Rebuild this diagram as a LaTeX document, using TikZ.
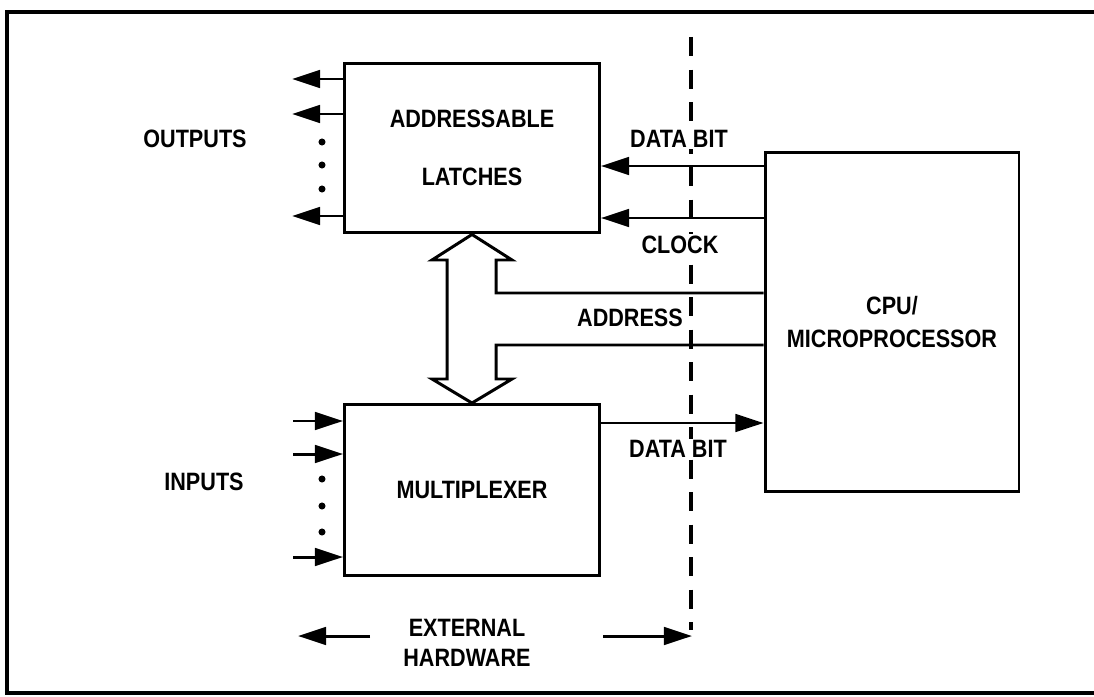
\documentclass[tikz,border=0pt]{standalone}
\usepackage{fontspec}
\setmainfont{Liberation Sans}[FakeStretch=0.86]
\usetikzlibrary{arrows.meta}
\begin{document}
\begin{tikzpicture}[
  x=0.02cm, y=-0.02cm,
  line width=1.7pt,
  blk/.style={rectangle, draw, minimum width=5.1cm, inner sep=0pt, align=center,
    font=\fontsize{14.3}{17}\selectfont\bfseries},
  lbl/.style={font=\fontsize{14.3}{17}\selectfont\bfseries, inner sep=1pt, align=center},
  sig/.style={-{Triangle[length=16pt,width=10pt]}},
  bus/.style={line join=miter},
  sep/.style={dash pattern=on 11pt off 7.5pt, line width=1.9pt}
]
  \useasboundingbox (0,0) rectangle (1094,696);
  % ramecek
  \draw[line width=1.9pt] (1100,12) -- (7,12) -- (7,693) -- (1100,693);

  % hranice externiho hardware
  \draw[sep] (691,37) -- (691,630);

  % bloky
  \node[blk, minimum height=3.4cm] (lat) at (472,148) {ADDRESSABLE\\[16pt]LATCHES};
  \node[blk, minimum height=3.42cm] (mux) at (472,490) {MULTIPLEXER};
  \node[blk, minimum width=5.08cm, minimum height=6.8cm] (cpu) at (892,322) {CPU/\\[1.5pt]MICROPROCESSOR};

  % vystupy
  \foreach \y [count=\i] in {79,114,216} {
    \coordinate (out\i) at (292,\y);
    \draw[sig] (lat.west |- out\i) -- (out\i);
  }
  \foreach \y in {142,165,189} \fill (322,\y) circle (2pt);
  \node[lbl] (outl) at (195,139) {OUTPUTS};

  % vstupy
  \foreach \y [count=\i] in {421,454,557} {
    \coordinate (in\i) at (293,\y);
    \draw[sig] (in\i) -- (mux.west |- in\i);
  }
  \foreach \y in {479,506,532} \fill (322,\y) circle (2pt);
  \node[lbl] (inl) at (204,482) {INPUTS};

  % signaly mezi CPU a bloky
  \draw[sig] (cpu.west |- 0,166) -- (lat.east |- 0,166);
  \draw[sig] (cpu.west |- 0,218) -- (lat.east |- 0,218);
  \draw[sig] (mux.east |- 0,423) -- (cpu.west |- 0,423);
  \node[lbl, fill=white] (dbit1) at (679,139) {DATA BIT};
  \node[lbl, fill=white] (clk) at (680,245) {CLOCK};
  \node[lbl, fill=white] (dbit2) at (678,449) {DATA BIT};

  % adresova sbernice (dvojita sipka)
  \coordinate (adrT) at (496,293);
  \coordinate (adrB) at (496,345);
  \draw[bus] (cpu.west |- adrT) -- (adrT) -- (496,260) -- (512,260) -- (lat.south)
    -- (432,260) -- (447,260) -- (447,379) -- (432,379) -- (mux.north)
    -- (512,379) -- (496,379) -- (adrB) -- (cpu.west |- adrB);
  \node[lbl] (adr) at (630,318) {ADDRESS};

  % popisek dole
  \node[lbl] (ext) at (467,643) {EXTERNAL\\HARDWARE};
  \coordinate (extL) at (298,636);
  \coordinate (extR) at (692,636);
  \draw[sig] (370,636) -- (extL);
  \draw[sig] (603,636) -- (extR);
\end{tikzpicture}
\end{document}
